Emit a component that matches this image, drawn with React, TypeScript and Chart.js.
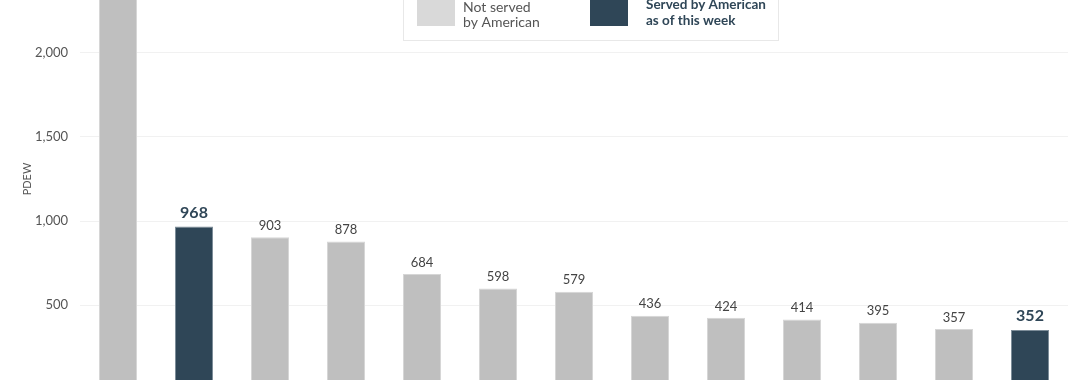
import React, { useEffect, useRef } from "react";
import { Chart, registerables } from "chart.js";

Chart.register(...registerables);

const categories = ["M1", "M2", "M3", "M4", "M5", "M6", "M7", "M8", "M9", "M10", "M11", "M12", "M13"];
const values = [2600, 968, 903, 878, 684, 598, 579, 436, 424, 414, 395, 357, 352];
const served = [false, true, false, false, false, false, false, false, false, false, false, false, true];
const yTickValues = [500, 1000, 1500, 2000];
const yMin = 54;
const yMax = 2315;
const yTitle = "PDEW";
const legendNotServed = ["Not served", "by American"];
const legendServed = ["Served by American", "as of this week"];

const GRAY = "#bfbfbf";
const DARK = "#2f4657";
const FONT = "Lato, 'Noto Sans', sans-serif";

const overlayPlugin = {
  id: "overlay",
  afterDatasetsDraw(chart: any) {
    const ctx = chart.ctx;
    const meta = chart.getDatasetMeta(0);
    ctx.save();
    ctx.textAlign = "center";
    ctx.textBaseline = "bottom";
    meta.data.forEach((bar: any, i: number) => {
      const label = values[i].toLocaleString("en-US");
      if (served[i]) {
        ctx.font = `700 16px ${FONT}`;
        ctx.fillStyle = DARK;
        ctx.fillText(label, bar.x, bar.y - 6);
      } else {
        ctx.font = `400 13px ${FONT}`;
        ctx.fillStyle = "#444";
        ctx.fillText(label, bar.x, bar.y - 5);
      }
    });
    ctx.restore();
  },
  afterDraw(chart: any) {
    const ctx = chart.ctx;
    ctx.save();
    ctx.translate(27, 179);
    ctx.rotate(-Math.PI / 2);
    ctx.textAlign = "center";
    ctx.textBaseline = "middle";
    ctx.font = `400 11px ${FONT}`;
    ctx.fillStyle = "#555";
    ctx.fillText(yTitle, 0, 0);
    ctx.restore();

    ctx.save();
    ctx.fillStyle = "#ffffff";
    ctx.fillRect(403, -40, 375, 80);
    ctx.strokeStyle = "#e8e8e8";
    ctx.lineWidth = 1;
    ctx.strokeRect(403.5, -40.5, 375, 81);
    ctx.fillStyle = "#d9d9d9";
    ctx.fillRect(417, -12, 38, 38);
    ctx.fillStyle = DARK;
    ctx.fillRect(590, -12, 38, 38);
    ctx.textAlign = "left";
    ctx.textBaseline = "middle";
    ctx.font = `400 14px ${FONT}`;
    ctx.fillStyle = "#555";
    ctx.fillText(legendNotServed[0], 463, 7);
    ctx.fillText(legendNotServed[1], 463, 22);
    ctx.font = `700 13.5px ${FONT}`;
    ctx.fillStyle = DARK;
    ctx.fillText(legendServed[0], 646, 5);
    ctx.fillText(legendServed[1], 646, 21);
    ctx.restore();
  },
};

export default function App() {
  const ref = useRef<HTMLCanvasElement | null>(null);
  useEffect(() => {
    if (!ref.current) return;
    const chart = new Chart(ref.current, {
      type: "bar",
      data: {
        labels: categories,
        datasets: [
          {
            data: values,
            backgroundColor: served.map((s) => (s ? DARK : GRAY)),
            borderColor: served.map((s) => (s ? "#7d8d99" : "#d6d6d6")),
            borderWidth: 1,
            barPercentage: 0.5,
            categoryPercentage: 1,
          },
        ],
      },
      options: {
        animation: false,
        responsive: true,
        maintainAspectRatio: false,
        layout: { padding: { top: 0, right: 12, bottom: 0, left: 0 } },
        plugins: { legend: { display: false }, tooltip: { enabled: false } },
        scales: {
          x: { display: false, offset: true, grid: { display: false } },
          y: {
            min: yMin,
            max: yMax,
            border: { display: false },
            grid: { color: "#f1f1f1", drawTicks: false, lineWidth: 1 },
            ticks: {
              stepSize: 500,
              padding: 12,
              color: "#555",
              font: { family: FONT, size: 13 },
              callback: (v: any) => Number(v).toLocaleString("en-US"),
            },
            afterBuildTicks: (scale: any) => {
              scale.ticks = yTickValues.map((v) => ({ value: v }));
            },
            afterFit: (scale: any) => {
              scale.width = 80;
              scale.paddingTop = 0;
              scale.paddingBottom = 0;
            },
          },
        },
      },
      plugins: [overlayPlugin],
    });
    return () => chart.destroy();
  }, []);
  return (
    <div style={{ position: "absolute", left: 0, top: 0, width: 1080, height: 380, background: "#fff" }}>
      <canvas ref={ref} />
    </div>
  );
}
